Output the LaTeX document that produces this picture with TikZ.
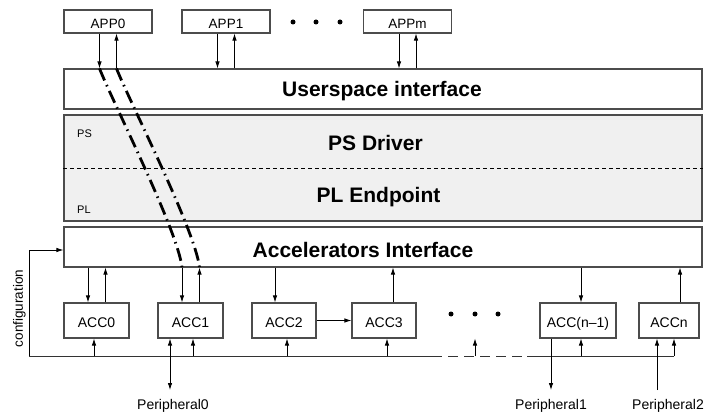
\documentclass[tikz,border=0pt]{standalone}
\usepackage{fontspec}
\setmainfont{Liberation Sans}
\usetikzlibrary{arrows.meta,positioning,calc}

\begin{document}
\begin{tikzpicture}[
    x=1pt, y=-1pt,
    >={Latex[length=7pt,width=4.5pt]},
    app box/.style={
        rectangle,
        draw=black!70,
        line width=1.1pt,
        minimum width=88pt,
        minimum height=23pt,
        text height=14pt,
        text depth=0pt,
        font=\fontsize{13.5}{15}\selectfont
    },
    acc box/.style={
        rectangle,
        draw=black!70,
        line width=1.1pt,
        minimum width=65pt,
        minimum height=35pt,
        text height=13pt,
        text depth=0pt,
        font=\fontsize{14}{16}\selectfont
    },
    layer box/.style={
        rectangle,
        draw=black!70,
        line width=1.1pt,
        minimum width=638pt,
        minimum height=40pt
    },
    layer title/.style={
        anchor=base,
        inner sep=0pt,
        font=\fontsize{21}{24}\selectfont\bfseries
    },
    side label/.style={
        anchor=base west,
        inner sep=0pt,
        font=\fontsize{11}{13}\selectfont
    },
    io label/.style={
        anchor=base,
        inner sep=0pt,
        font=\fontsize{14}{16}\selectfont
    },
    link/.style={->, line width=0.8pt},
    bus/.style={line width=0.9pt, draw=black!80},
    tunnel/.style={line width=2.8pt, dash pattern=on 13pt off 5pt on 1.5pt off 5pt}
]
\useasboundingbox (0,0) rectangle (704,414);

% Applications
\node[app box] (app0) at (108,21.5) {APP0};
\node[app box] (app1) at (226,21.5) {APP1};
\node[app box] (appm) at (407.5,21.5) {APPm};
\foreach \x in {293,316,340}
    \fill (\x,22) circle (2.5pt);

% Layers
\node[layer box] (usr) at (383,89) {};
\node[layer title] (usrtitle) at (382,97) {Userspace interface};

\node[layer box, fill=black!6, minimum height=106pt] (pspl) at (383,168) {};
\draw[line width=0.7pt, dash pattern=on 4pt off 3pt] (pspl.west) -- (pspl.east);
\node[layer title] (psdrv) at (375.5,150.5) {PS Driver};
\node[layer title] (plend) at (378.5,203) {PL Endpoint};
\node[side label] (ps) at (77,138) {PS};
\node[side label] (pl) at (77,214) {PL};

\node[layer box] (acci) at (383,247) {};
\node[layer title] (accititle) at (363,257) {Accelerators Interface};

% Accelerators
\node[acc box] (acc0) at (96.5,320.5) {ACC0};
\node[acc box] (acc1) at (190.5,320.5) {ACC1};
\node[acc box, minimum width=64pt] (acc2) at (284,320.5) {ACC2};
\node[acc box, minimum width=64pt] (acc3) at (384,320.5) {ACC3};
\node[acc box, minimum width=76pt] (accn1) at (578,320.5) {ACC(n--1)};
\node[acc box, minimum width=60pt] (accn) at (669,320.5) {ACCn};
\foreach \x in {451,475,498}
    \fill (\x,314) circle (2.5pt);

% Apps <-> userspace
\foreach \a in {app0,app1,appm} {
    \draw[link] ([xshift=-8.5]\a.south) -- ([xshift=-8.5]\a.south |- usr.north);
    \draw[link] ([xshift=8.5]\a.south |- usr.north) -- ([xshift=8.5]\a.south);
}

% Path of APP0 down to ACC1
\draw[tunnel] ([xshift=-8.5]app0.south |- usr.north) .. controls +(12,31) and +(-4,-37) .. ([xshift=-8.5]acc1.north |- acci.south);
\draw[tunnel] ([xshift=8.5]app0.south |- usr.north) .. controls +(12,31) and +(-4,-37) .. ([xshift=9]acc1.north |- acci.south);

% Interface <-> accelerators
\foreach \a in {acc0,acc1} {
    \draw[link] ([xshift=-8.5]\a.north |- acci.south) -- ([xshift=-8.5]\a.north);
    \draw[link] ([xshift=9]\a.north) -- ([xshift=9]\a.north |- acci.south);
}
\draw[link] ([xshift=-9]acc2.north |- acci.south) -- ([xshift=-9]acc2.north);
\draw[link] ([xshift=9]acc3.north) -- ([xshift=9]acc3.north |- acci.south);
\draw[link] ([xshift=3]accn1.north |- acci.south) -- ([xshift=3]accn1.north);
\draw[link] ([xshift=11]accn.north) -- ([xshift=11]accn.north |- acci.south);
\draw[link] (acc2) -- (acc3);

% Configuration bus
\coordinate (busl) at (29,356);
\coordinate (gapl) at (432,356);
\coordinate (gapm) at (475,356);
\coordinate (gapr) at (527,356);
\coordinate (busr) at (674,356);
\draw[bus] (busl) -- (gapl);
\draw[bus, dash pattern=on 10pt off 6pt] (gapl) -- (gapr);
\draw[bus] (gapr) -- (busr);
\draw[link] (busl) |- ([yshift=-3]acci.west);
\node[rotate=90, font=\fontsize{13.5}{15}\selectfont] (cfg) at (19.5,308.5) {configuration};

\draw[link] ([xshift=-2.5]acc0.south |- busl) -- ([xshift=-2.5]acc0.south);
\draw[link] ([xshift=2.5]acc1.south |- busl) -- ([xshift=2.5]acc1.south);
\draw[link] ([xshift=3]acc2.south |- busl) -- ([xshift=3]acc2.south);
\draw[link] ([xshift=3]acc3.south |- busl) -- ([xshift=3]acc3.south);
\draw[link] (gapm) -- (gapm |- acc3.south);
\draw[link] ([xshift=3]accn1.south |- busl) -- ([xshift=3]accn1.south);
\draw[link] (busr) -- (busr |- accn.south);

% Peripherals
\coordinate (p0end) at (170,390);
\coordinate (p1end) at (551,390);
\coordinate (p2end) at (657,390);
\draw[link, <->] (acc1.south -| p0end) -- (p0end);
\draw[link] (accn1.south -| p1end) -- (p1end);
\draw[link] (p2end) -- (p2end |- accn.south);
\node[io label] (per0) at (173,409) {Peripheral0};
\node[io label] (per1) at (551,409) {Peripheral1};
\node[io label] (per2) at (668,409) {Peripheral2};

\end{tikzpicture}
\end{document}
